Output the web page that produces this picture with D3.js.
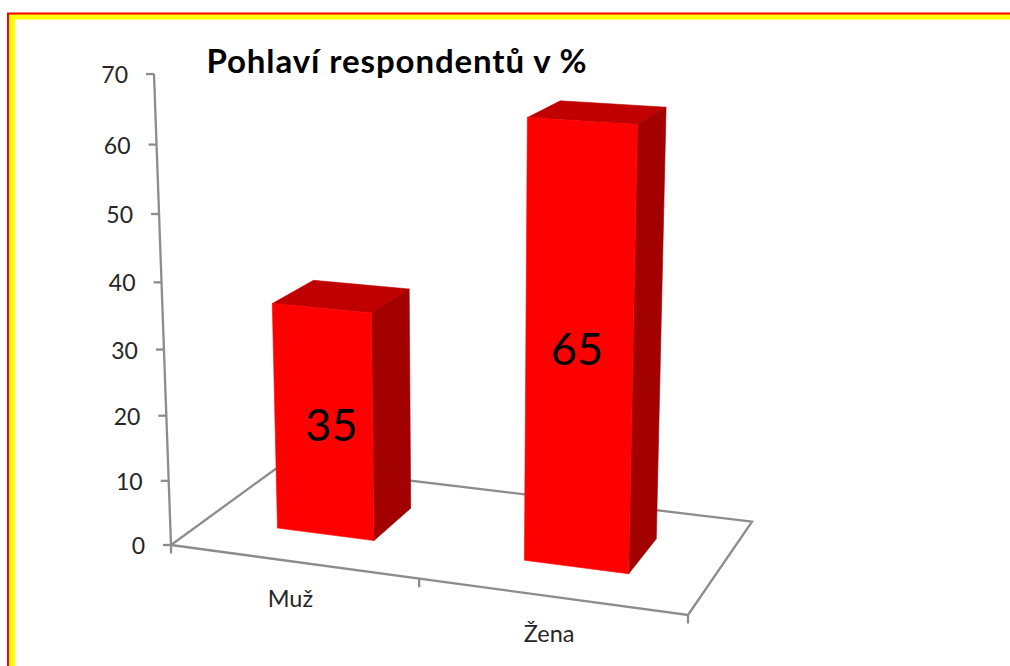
<!DOCTYPE html>
<html><head><meta charset="utf-8"><script src="https://cdn.jsdelivr.net/npm/d3@7"></script>
<style>html,body{margin:0;background:#fff}svg{display:block}text{font-family:Lato,sans-serif}</style></head><body>
<svg id="c" width="1010" height="666"></svg>
<script>
const categories=["Muž","Žena"];
const values=[35,65];
const valueTicks=[0,10,20,30,40,50,60,70];
const titleText="Pohlaví respondentů v %";
const svg=d3.select("#c");
// page frame (open towards right and bottom)
svg.append("path").attr("d","M12,666V16.5H1010").attr("fill","none").attr("stroke","#ffff00").attr("stroke-width",6);
svg.append("path").attr("d","M8,666V13.5H1010").attr("fill","none").attr("stroke","#ff0000").attr("stroke-width",2);
// 3D projection: floor square (u,v) -> screen, plus a vertical vanishing point
const floor=[[171,545],[688,615],[752,521.7],[281,465]];
function squareToQuad(p){const [x0,y0]=p[0],[x1,y1]=p[1],[x2,y2]=p[2],[x3,y3]=p[3];
 const dx1=x1-x2,dx2=x3-x2,sx=x0-x1+x2-x3,dy1=y1-y2,dy2=y3-y2,sy=y0-y1+y2-y3,de=dx1*dy2-dx2*dy1;
 const g=(sx*dy2-dx2*sy)/de,h=(dx1*sy-sx*dy1)/de;
 return [[x1-x0+g*x1,x3-x0+h*x3,x0],[y1-y0+g*y1,y3-y0+h*y3,y0],[g,h,1]];}
const H=squareToQuad(floor);
const V=[469,8800],beta=-0.000771;
const y=d3.scaleLinear().domain([0,70]).range([0,70]);
const x=d3.scaleBand().domain(categories).range([0,1]).paddingInner(0.6).paddingOuter(0.3);
const xStep=d3.scalePoint().domain(categories).range([0,1]).padding(0.5);
const depth=d3.scaleLinear().domain([0,1]).range([0.305,0.69]);
function proj(u,v,val){const w=y(val)*beta;
 const X=H[0][0]*u+H[0][1]*v+H[0][2]+w*V[0],Yy=H[1][0]*u+H[1][1]*v+H[1][2]+w*V[1],Z=H[2][0]*u+H[2][1]*v+1+w;
 return [X/Z,Yy/Z];}
const line=d3.line();
const axisColor="#8c8c8c",textColor="#262626";
const stroke=(g)=>g.attr("fill","none").attr("stroke",axisColor).attr("stroke-width",2.3);
// floor
svg.append("path").call(stroke).attr("stroke-linejoin","miter")
 .attr("d",line([proj(0,0,0),proj(1,0,0),proj(1,1,0),proj(0,1,0)])+"Z");
// value axis
svg.append("path").call(stroke).attr("d",line([proj(0,0,y.domain()[0]),proj(0,0,y.domain()[1])]));
const tick=svg.append("g").selectAll("g").data(valueTicks).join("g");
tick.append("path").call(stroke).attr("d",d=>{const p=proj(0,0,d);return line([[p[0]-8,p[1]],p]);});
tick.append("text").attr("x",d=>proj(0,0,d)[0]-26).attr("y",d=>proj(0,0,d)[1]+9)
 .attr("text-anchor","end").attr("font-size",23).attr("fill",textColor).text(d=>d);
// stems under the floor corners and category ticks
const catTicks=[0,0.5,1];
svg.append("g").selectAll("path").data(catTicks).join("path").call(stroke)
 .attr("d",u=>{const p=proj(u,0,0);return line([p,[p[0],p[1]+8.5]]);});
svg.append("g").selectAll("text").data(categories).join("text")
 .attr("x",d=>proj(xStep(d),-0.02,0)[0]).attr("y",d=>proj(xStep(d),0,0)[1]+45.7)
 .attr("text-anchor","middle").attr("font-size",23.5).attr("fill",textColor).text(d=>d);
// bars
const labelNudgeX=[8,-2],labelNudgeY=[18,15];
const faces=svg.append("g").selectAll("g").data(categories).join("g");
faces.each(function(c,i){
 const g=d3.select(this),u0=x(c),u1=u0+x.bandwidth(),v0=depth(0),v1=depth(1),val=values[i];
 const poly=(pts,fill)=>g.append("path").attr("d",line(pts)+"Z").attr("fill",fill).attr("stroke",fill).attr("stroke-width",0.6);
 poly([proj(u0,v0,val),proj(u1,v0,val),proj(u1,v1,val),proj(u0,v1,val)],"#c00000");
 poly([proj(u1,v0,0),proj(u1,v1,0),proj(u1,v1,val),proj(u1,v0,val)],"#a30000");
 poly([proj(u0,v0,0),proj(u1,v0,0),proj(u1,v0,val),proj(u0,v0,val)],"#ff0000");
 const c3=proj((u0+u1)/2,v0,val/2);
 g.append("text").attr("x",c3[0]+labelNudgeX[i]).attr("y",c3[1]+labelNudgeY[i]).attr("text-anchor","middle")
  .attr("font-size",45).attr("fill","#000").text(val);
});
svg.append("text").attr("x",397).attr("y",72.5).attr("text-anchor","middle")
 .attr("font-size",33).attr("letter-spacing",0.9).attr("font-weight",700).attr("fill","#000").text(titleText);
</script></body></html>
